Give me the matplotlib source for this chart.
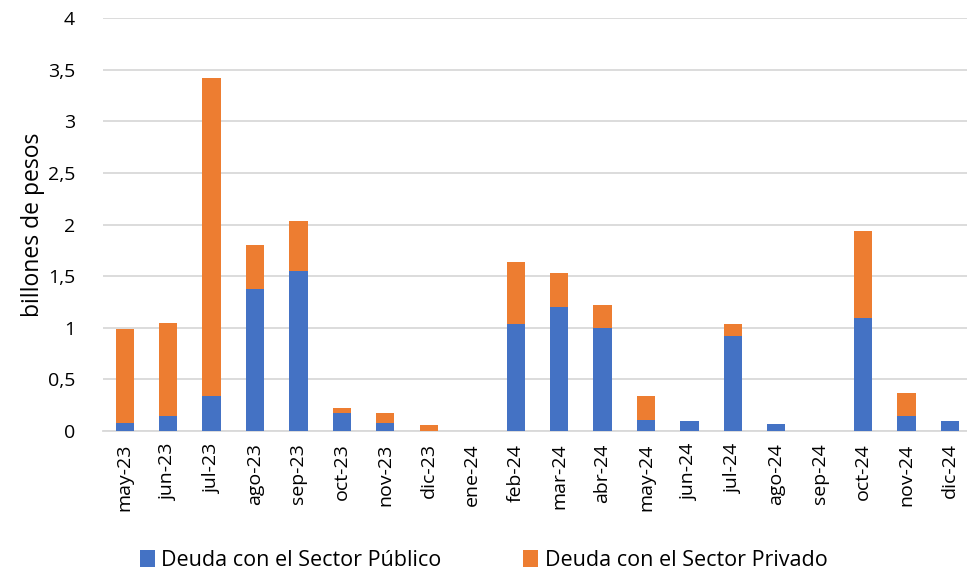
import numpy as np
import matplotlib.pyplot as plt
from matplotlib.ticker import FuncFormatter

meses = ['may-23', 'jun-23', 'jul-23', 'ago-23', 'sep-23', 'oct-23', 'nov-23',
         'dic-23', 'ene-24', 'feb-24', 'mar-24', 'abr-24', 'may-24', 'jun-24',
         'jul-24', 'ago-24', 'sep-24', 'oct-24', 'nov-24', 'dic-24']

# billones de pesos
publico = [0.08, 0.15, 0.34, 1.375, 1.55, 0.175, 0.08, 0.0, 0.0, 1.04,
           1.20, 1.00, 0.11, 0.094, 0.92, 0.068, 0.0, 1.095, 0.15, 0.094]
total = [0.99, 1.05, 3.42, 1.80, 2.03, 0.22, 0.175, 0.055, 0.0, 1.64,
         1.53, 1.225, 0.34, 0.094, 1.035, 0.068, 0.0, 1.94, 0.365, 0.094]
privado = [round(t - p, 3) for t, p in zip(total, publico)]

azul = '#4472C4'
naranja = '#ED7D31'

plt.rcParams['font.family'] = ['Open Sans', 'DejaVu Sans']

fig = plt.figure(figsize=(9.67, 5.82), dpi=100)
ax = fig.add_axes([103 / 967, 1 - 431 / 582, 1 - 103 / 967, 413 / 582])

x = np.arange(len(meses))
ax.bar(x, publico, width=0.42, color=azul, label='Deuda con el Sector Público', zorder=3)
ax.bar(x, privado, width=0.42, bottom=publico, color=naranja,
       label='Deuda con el Sector Privado', zorder=3)

ax.set_ylim(0, 4)
ax.set_yticks(np.arange(0, 4.01, 0.5))
ax.yaxis.set_major_formatter(FuncFormatter(lambda v, p: ('%g' % v).replace('.', ',')))
ax.set_xlim(-0.5, 19.39)
ax.set_xticks(x)
ax.set_xticklabels(meses, rotation=90)

ax.grid(axis='y', color='#D9D9D9', linewidth=1.3, zorder=0)
for s in ['top', 'right', 'left']:
    ax.spines[s].set_visible(False)
ax.spines['bottom'].set_color('#D9D9D9')
ax.spines['bottom'].set_linewidth(1.3)
ax.tick_params(axis='both', length=0, labelsize=14, colors='#000000')
ax.tick_params(axis='y', pad=20)
ax.tick_params(axis='x', pad=9)
ax.set_ylabel('billones de pesos', fontsize=16.5, labelpad=2)

fig.legend(loc='lower center', bbox_to_anchor=(0.5, -0.014), ncol=2, frameon=False,
           fontsize=15.5, handlelength=0.7, handleheight=0.8, columnspacing=3.8,
           handletextpad=0.3)

fig.savefig('out.png', dpi=100)
